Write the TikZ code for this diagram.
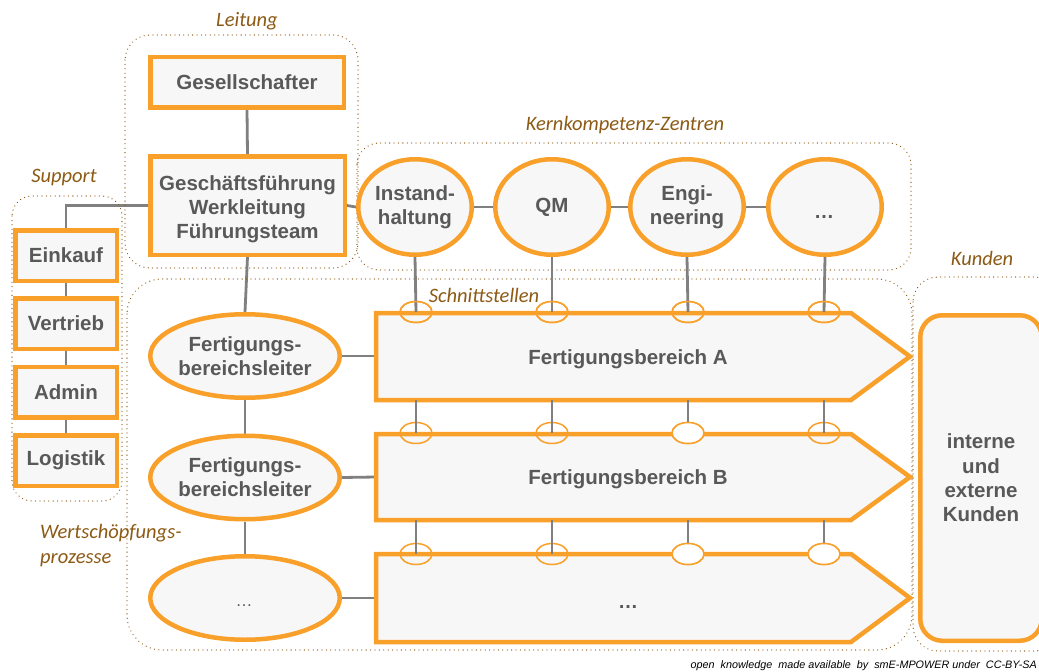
\documentclass[tikz,border=0pt]{standalone}
\usepackage{fontspec}
\setmainfont{Liberation Sans}
\newfontfamily\labfont{Carlito}
\usetikzlibrary{shapes.geometric}
\definecolor{org}{RGB}{248,160,42}
\definecolor{boxfill}{RGB}{247,247,247}
\definecolor{txtgray}{RGB}{89,89,89}
\definecolor{lngray}{RGB}{128,128,128}
\definecolor{brn}{RGB}{140,90,20}
\pgfdeclarelayer{bg}
\pgfsetlayers{bg,main}
\tikzset{
  box/.style={draw=org, line width=4.5pt, fill=boxfill, text=txtgray, font=\fontsize{20.5}{24}\selectfont\bfseries, align=center, inner sep=0pt},
  rbox/.style={box, rectangle},
  ebox/.style={box, ellipse},
  arrowbox/.style={draw=org, line width=4.5pt, fill=boxfill, line join=miter},
  atext/.style={text=txtgray, font=\fontsize{20.5}{24}\selectfont\bfseries, inner sep=0pt},
  dtext/.style={text=txtgray, font=\fontsize{20}{24}\selectfont, inner sep=0pt, anchor=base},
  conn/.style={draw=lngray, line width=2.8pt},
  small/.style={draw=org, line width=1.5pt, ellipse, minimum width=32pt, minimum height=21pt, inner sep=0pt},
  region/.style={draw=brn, line width=1.3pt, dash pattern=on 0.01pt off 4.4pt, line cap=round},
  lab/.style={text=brn, font=\labfont\itshape\fontsize{20.5}{25}\selectfont, inner sep=0pt}
}
\begin{document}
\begin{tikzpicture}[x=1pt,y=-1pt]
\useasboundingbox (0,0) rectangle (1039,672);
% regions
\draw[region, rounded corners=25pt] (125,35) rectangle (358,268);
\draw[region, rounded corners=20pt] (12,196) rectangle (122,501);
\draw[region, rounded corners=22pt] (357,143) rectangle (911,270);
\draw[region, rounded corners=35pt] (127,279) rectangle (912,650);
\draw[region, rounded corners=25pt] (913,277) rectangle (1060,651);
% labels
\node[lab] (lLeitung) at (247,21) {Leitung};
\node[lab] (lSupport) at (64,178) {Support};
\node[lab] (lKern) at (625,125) {Kernkompetenz-Zentren};
\node[lab] (lSchnitt) at (484,295) {Schnittstellen};
\node[lab] (lKunden) at (982,258) {Kunden};
\node[lab, anchor=west, align=left] (lWert) at (40,546) {Wertschöpfungs-\\prozesse};
% Leitung
\node[rbox, minimum width=193.5pt, minimum height=50.5pt] (ges) at (247,82) {Gesellschafter};
\node[rbox, minimum width=194.5pt, minimum height=98.5pt] (gf) at (247.5,205.5) {\rule{0pt}{22pt}Geschäftsführung\\Werkleitung\\Führungsteam};
% Support
\foreach \n/\y/\t in {ek/255.5/Einkauf, vt/323.5/Vertrieb, ad/392/Admin, lg/460.5/Logistik}{
  \node[rbox, minimum width=101.5pt, minimum height=50.5pt] (\n) at (66,\y) {\t};
}
% Kernkompetenz
\node[ebox, minimum width=113.5pt, minimum height=95.5pt] (k1) at (415,207) {Instand-\\haltung};
\node[ebox, minimum width=113.5pt, minimum height=95.5pt] (k2) at (552,207) {QM};
\node[ebox, minimum width=113.5pt, minimum height=95.5pt] (k3) at (687,207) {Engi-\\neering};
\node[ebox, minimum width=113.5pt, minimum height=95.5pt] (k4) at (825,207) {};
\node[dtext, font=\fontsize{20}{24}\selectfont\bfseries] (k4t) at (824,218) {\dots};
% Fertigungsbereichsleiter
\node[ebox, minimum width=189.5pt, minimum height=83.5pt] (f1) at (245,356) {Fertigungs-\\bereichsleiter};
\node[ebox, minimum width=189.5pt, minimum height=83.5pt] (f2) at (245,477.5) {Fertigungs-\\bereichsleiter};
\node[ebox, minimum width=189.5pt, minimum height=83.5pt] (f3) at (245,598) {};
\node[dtext, font=\fontsize{17}{20}\selectfont] (f3t) at (244,606) {\dots};
% Arrows
\draw[arrowbox] (376,313) -- (851,313) -- (910,356.5) -- (851,400) -- (376,400) -- cycle;
\draw[arrowbox] (376,434) -- (851,434) -- (910,477) -- (851,520) -- (376,520) -- cycle;
\draw[arrowbox] (376,554) -- (851,554) -- (910,598) -- (851,642) -- (376,642) -- cycle;
\node[atext] (tA) at (628,359) {Fertigungsbereich A};
\node[atext] (tB) at (628,479) {Fertigungsbereich B};
\node[dtext, font=\fontsize{20}{24}\selectfont\bfseries] (tC) at (628,608) {\dots};
\coordinate (aA) at (376,356);
\coordinate (aB) at (376,477);
\coordinate (aC) at (376,598);
\foreach \i/\x in {1/416,2/552,3/688,4/824}{
  \coordinate (bA\i) at (\x,400);
  \coordinate (bB\i) at (\x,520);
}
% Kunden
\node[draw=org, line width=4.5pt, fill=boxfill, rounded corners=22pt, minimum width=121.5pt, minimum height=325.5pt, text=txtgray, font=\fontsize{20.5}{24.3}\selectfont\bfseries, align=center, inner sep=0pt] (kd) at (981,478) {interne\\und\\externe\\Kunden};
% small interface ellipses
\foreach \i/\x in {1/416,2/552,3/688,4/824}{
  \node[small] (sA\i) at (\x,312) {};
}
\foreach \i/\x/\f in {1/416/none,2/552/none,3/688/white,4/824/none}{
  \node[small, fill=\f] (sB\i) at (\x,433) {};
}
\foreach \i/\x/\f in {1/416/none,2/552/none,3/688/white,4/824/white}{
  \node[small, fill=\f] (sC\i) at (\x,554) {};
}
% connectors
\begin{pgfonlayer}{bg}
\draw[conn] (ges.south) -- (gf.north);
\draw[conn] (gf.west) -| (ek.north);
\draw[conn] (ek.south) -- (vt.north);
\draw[conn] (vt.south) -- (ad.north);
\draw[conn] (ad.south) -- (lg.north);
\draw[conn] (gf.east) -- (k1.west);
\draw[conn] (k1.east) -- (k2.west);
\draw[conn] (k2.east) -- (k3.west);
\draw[conn] (k3.east) -- (k4.west);
\draw[conn] (gf.south) -- (f1.north);
\draw[conn] (f1.south) -- (f2.north);
\draw[conn] (f2.south) -- (f3.north);
\draw[conn] (f1.east) -- (aA);
\draw[conn] (f2.east) -- (aB);
\draw[conn] (f3.east) -- (aC);
\end{pgfonlayer}
\foreach \i in {1,2,3,4}{
  \draw[conn] (k\i.south) -- (sA\i.center);
  \draw[conn] (bA\i) -- (sB\i.center);
  \draw[conn] (bB\i) -- (sC\i.center);
}
% redraw small ellipses on top (transparent ones keep line visible)
\foreach \i/\x in {1/416,2/552,3/688,4/824}{
  \node[small] (sA\i x) at (\x,312) {};
}
\node[small, fill=white] (sB3x) at (688,433) {};
\node[small, fill=white] (sC3x) at (688,554) {};
\node[small, fill=white] (sC4x) at (824,554) {};
% footer
\node[anchor=east, inner sep=0pt, font=\itshape\fontsize{10.8}{13}\selectfont, text=black] (foot) at (1037,666) {open~ knowledge~ made available~ by~ smE-MPOWER under~ CC-BY-SA};
\end{tikzpicture}
\end{document}
